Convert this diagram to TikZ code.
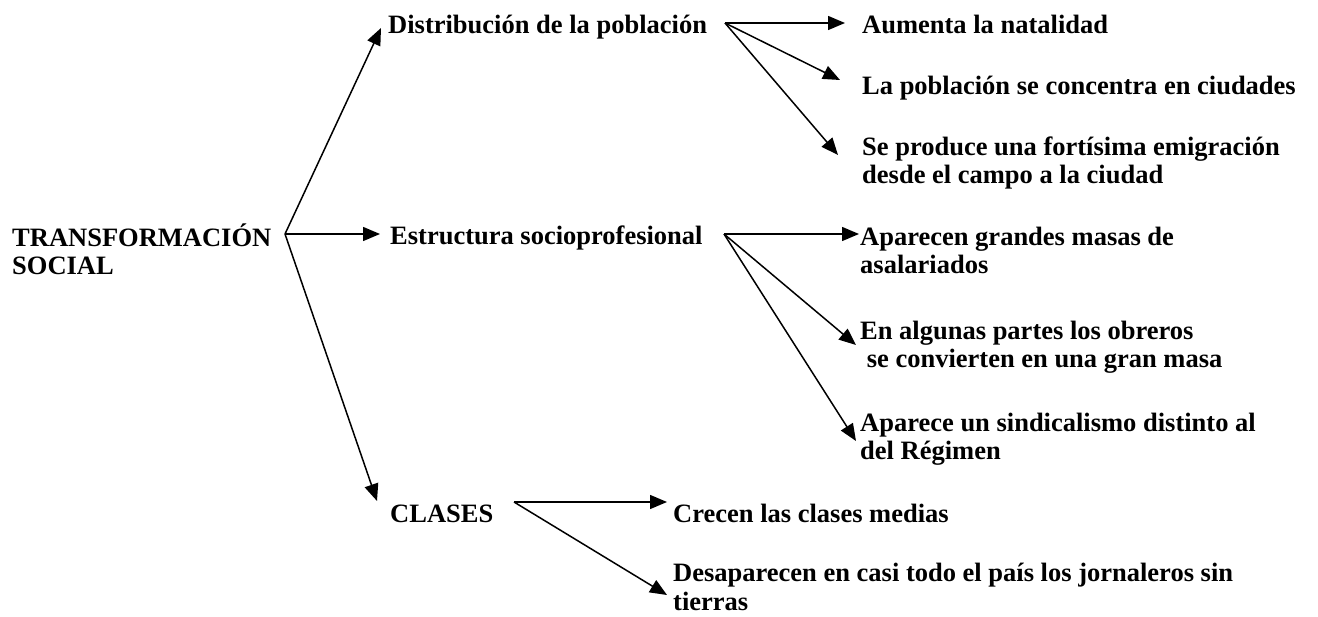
\documentclass[tikz,border=0pt]{standalone}
\usepackage{fontspec}
\setmainfont{Liberation Serif}
\usetikzlibrary{arrows.meta}
\begin{document}
\begin{tikzpicture}[x=1pt,y=-1pt,
  lbl/.style={anchor=base west,inner sep=0pt,align=left,font=\bfseries\fontsize{26.5}{28.5}\selectfont},
  arr/.style={line width=1.5pt,-{Triangle[length=17pt,width=14pt]}}]
\useasboundingbox (0,0) rectangle (1318,617);
% nodes (base anchor = baseline of last line)
\node[lbl] (root) at (12,275) {TRANSFORMACIÓN\\SOCIAL};
\node[lbl] (dist) at (388,34) {Distribución de la población};
\node[lbl] (est) at (390,245) {Estructura socioprofesional};
\node[lbl] (cla) at (390,522) {CLASES};
\node[lbl] (aum) at (862,34) {Aumenta la natalidad};
\node[lbl] (pob) at (862,95) {La población se concentra en ciudades};
\node[lbl] (emi) at (862,184) {Se produce una fortísima emigración\\desde el campo a la ciudad};
\node[lbl] (asa) at (860,274) {Aparecen grandes masas de\\asalariados};
\node[lbl] (obr) at (860,368) {En algunas partes los obreros\\\ se convierten en una gran masa};
\node[lbl] (sin) at (860,460) {Aparece un sindicalismo distinto al\\del Régimen};
\node[lbl] (cre) at (673,522) {Crecen las clases medias};
\node[lbl] (jor) at (673,610) {Desaparecen en casi todo el país los jornaleros sin\\tierras};
% fan origins
\coordinate (r0) at (285,234);
\coordinate (d0) at (725,23);
\coordinate (e0) at (724,234);
\coordinate (c0) at (514,502);
% connectors
\draw[arr] (r0) -- ([shift={(-7,-6)}]dist.base west);
\draw[arr] (r0) -- ([shift={(-10,-11)}]est.base west);
\draw[arr] (r0) -- ([shift={(-13,-21)}]cla.base west);
\draw[arr] (d0) -- ([shift={(-17,-11)}]aum.base west);
\draw[arr] (d0) -- ([shift={(-22,-15)}]pob.base west);
\draw[arr] (d0) -- ([shift={(-24,-29)}]emi.base west);
\draw[arr] (e0) -- ([shift={(-1,-40)}]asa.base west);
\draw[arr] (e0) -- ([shift={(-4,-23)}]obr.base west);
\draw[arr] (e0) -- ([shift={(-4,-19)}]sin.base west);
\draw[arr] (c0) -- ([shift={(-6,-20)}]cre.base west);
\draw[arr] (c0) -- ([shift={(-6,-15)}]jor.base west);
\end{tikzpicture}
\end{document}
